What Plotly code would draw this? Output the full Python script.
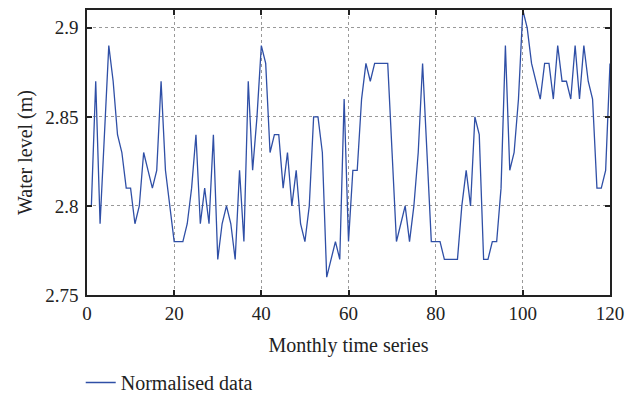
import plotly.graph_objects as go

# Monthly water level series (m), months 1..120
months = list(range(1, 121))
water_level = [
    2.80, 2.87, 2.79, 2.84, 2.89, 2.87, 2.84, 2.83, 2.81, 2.81,
    2.79, 2.80, 2.83, 2.82, 2.81, 2.82, 2.87, 2.82, 2.80, 2.78,
    2.78, 2.78, 2.79, 2.81, 2.84, 2.79, 2.81, 2.79, 2.84, 2.77,
    2.79, 2.80, 2.79, 2.77, 2.82, 2.78, 2.87, 2.82, 2.85, 2.89,
    2.88, 2.83, 2.84, 2.84, 2.81, 2.83, 2.80, 2.82, 2.79, 2.78,
    2.80, 2.85, 2.85, 2.83, 2.76, 2.77, 2.78, 2.77, 2.86, 2.78,
    2.82, 2.82, 2.86, 2.88, 2.87, 2.88, 2.88, 2.88, 2.88, 2.83,
    2.78, 2.79, 2.80, 2.78, 2.80, 2.83, 2.88, 2.83, 2.78, 2.78,
    2.78, 2.77, 2.77, 2.77, 2.77, 2.80, 2.82, 2.80, 2.85, 2.84,
    2.77, 2.77, 2.78, 2.78, 2.81, 2.89, 2.82, 2.83, 2.86, 2.91,
    2.90, 2.88, 2.87, 2.86, 2.88, 2.88, 2.86, 2.89, 2.87, 2.87,
    2.86, 2.89, 2.86, 2.89, 2.87, 2.86, 2.81, 2.81, 2.82, 2.88,
]

x_ticks = [0, 20, 40, 60, 80, 100, 120]
y_ticks = [2.75, 2.8, 2.85, 2.9]
y_labels = ["2.75", "2.8", "2.85", "2.9"]

font = "Liberation Serif, Times New Roman, serif"

fig = go.Figure()
fig.add_trace(go.Scatter(
    x=months, y=water_level, mode="lines", name="Normalised data",
    line=dict(color="#2f4fa6", width=1.3),
))

axis_common = dict(
    showline=True, linecolor="#222", linewidth=1.5, mirror="ticks",
    ticks="inside", ticklen=5, tickwidth=2, tickcolor="#222",
    showgrid=True, gridcolor="#999", griddash="dot", gridwidth=1,
    zeroline=False, tickfont=dict(family=font, size=19, color="#222"),
)

fig.update_xaxes(
    range=[0, 120], tickvals=x_ticks, ticklabelstandoff=0,
    title=dict(text="Monthly time series", font=dict(family=font, size=20, color="#222"), standoff=15),
    **axis_common,
)
fig.update_yaxes(
    range=[2.75, 2.91], tickvals=y_ticks, ticktext=y_labels, ticklabelstandoff=3,
    title=dict(text="Water level (m)", font=dict(family=font, size=20, color="#222"), standoff=7),
    **axis_common,
)

# page body has an 8px margin, so the figure is sized to fit inside the window
fig.update_layout(
    width=617, height=394,
    font=dict(family=font, size=20, color="#222"),
    margin=dict(l=79, r=15, t=0, b=107),
    paper_bgcolor="white", plot_bgcolor="white",
    showlegend=True,
    legend=dict(x=-0.012, y=-0.307, xanchor="left", yanchor="middle",
                font=dict(family=font, size=20, color="#222"),
                bgcolor="rgba(0,0,0,0)"),
)

fig.write_html("out.html")
